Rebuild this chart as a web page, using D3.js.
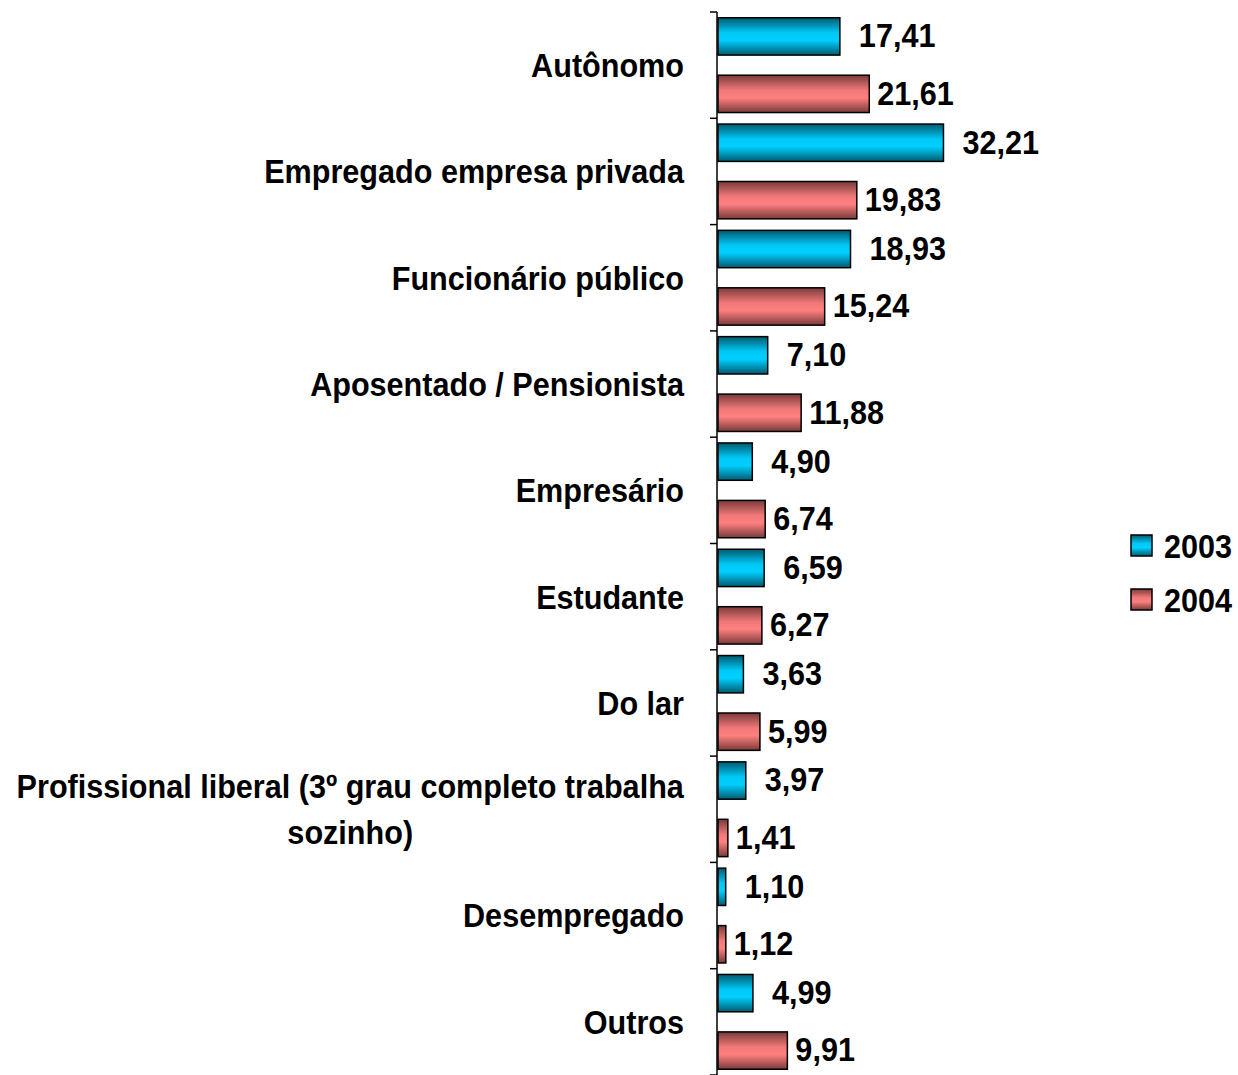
<!DOCTYPE html>
<html lang="pt">
<head>
<meta charset="utf-8">
<script src="https://cdnjs.cloudflare.com/ajax/libs/d3/7.8.5/d3.min.js"></script>
<style>
  body { margin: 0; background: #fff; }
  svg text { font-family: "Liberation Sans", Arial, sans-serif; font-weight: bold; fill: #000; }
</style>
</head>
<body>
<div id="chart"></div>
<script>
// categories, top to bottom
const categories = [
  "Autônomo",
  "Empregado empresa privada",
  "Funcionário público",
  "Aposentado / Pensionista",
  "Empresário",
  "Estudante",
  "Do lar",
  "Profissional liberal (3º grau completo trabalha|sozinho)",
  "Desempregado",
  "Outros"
];
const seriesNames = ["2003", "2004"];
const values2003 = [17.41, 32.21, 18.93, 7.10, 4.90, 6.59, 3.63, 3.97, 1.10, 4.99];
const values2004 = [21.61, 19.83, 15.24, 11.88, 6.74, 6.27, 5.99, 1.41, 1.12, 9.91];

const w = 1238, h = 1075;
const axisX = 717;
const narrow = 0.9;   // squeeze to look like Arial Narrow
const fs = "34px";

const rows = categories.map((c, i) => ({
  cat: c,
  vals: [
    {s: "2003", v: values2003[i]},
    {s: "2004", v: values2004[i]}
  ]
}));

const svg = d3.select("#chart").append("svg")
  .attr("width", w).attr("height", h);

// gradients (dark edges, light middle)
const defs = svg.append("defs");
const grads = {
  "2003": ["#005a70", "#00c8f5", "#00d0ff", "#005a70"],
  "2004": ["#7a3a3a", "#f07878", "#ff8080", "#7a3a3a"]
};
Object.keys(grads).forEach(k => {
  const g = defs.append("linearGradient")
    .attr("id", "g" + k)
    .attr("x1", 0).attr("y1", 0).attr("x2", 0).attr("y2", 1);
  const c = grads[k];
  g.append("stop").attr("offset", "0%").attr("stop-color", c[0]);
  g.append("stop").attr("offset", "40%").attr("stop-color", c[1]);
  g.append("stop").attr("offset", "60%").attr("stop-color", c[2]);
  g.append("stop").attr("offset", "100%").attr("stop-color", c[3]);
});

const y = d3.scaleBand()
  .domain(categories)
  .range([12, 1075]);

const ys = d3.scaleBand()
  .domain(seriesNames)
  .range([0, y.bandwidth()])
  .paddingInner(0.35)
  .paddingOuter(0.1);

const x = d3.scaleLinear()
  .domain([0, 35])
  .range([axisX, axisX + 245]);

// helper: text squeezed horizontally, anchored at (tx, ty)
function narrowText(sel, tx, ty) {
  return sel.attr("transform", `translate(${tx},${ty}) scale(${narrow},1)`);
}

// axis line and ticks
svg.append("line")
  .attr("x1", axisX).attr("x2", axisX)
  .attr("y1", 12).attr("y2", h)
  .attr("stroke", "#000").attr("stroke-width", 1.5);

const tickPos = categories.map(c => y(c)).concat([y(categories[categories.length - 1]) + y.bandwidth()]);
svg.selectAll(".tick")
  .data(tickPos)
  .enter().append("line")
  .attr("class", "tick")
  .attr("x1", axisX - 7).attr("x2", axisX)
  .attr("y1", d => d).attr("y2", d => d)
  .attr("stroke", "#000").attr("stroke-width", 1.5);

// category labels
svg.selectAll(".cat")
  .data(categories)
  .enter().append("g")
  .attr("class", "cat")
  .each(function(d) {
    const lines = d.split("|");
    const cy = y(d) + y.bandwidth() / 2;
    const lh = 46;
    const g = d3.select(this);
    if (lines.length === 1) {
      narrowText(g.append("text"), 684, cy)
        .attr("dy", "0.35em").attr("text-anchor", "end")
        .style("font-size", fs).text(d);
    } else {
      const first = g.append("text").style("font-size", fs).text(lines[0]);
      const wid = first.node().getComputedTextLength() * narrow;
      first.remove();
      const mid = 684 - wid / 2;
      lines.forEach((ln, i) => {
        narrowText(g.append("text"), mid, cy + (i - (lines.length - 1) / 2) * lh)
          .attr("dy", "0.35em").attr("text-anchor", "middle")
          .style("font-size", fs).text(ln);
      });
    }
  });

// bars
const grp = svg.selectAll(".grp")
  .data(rows)
  .enter().append("g")
  .attr("transform", d => `translate(0,${y(d.cat)})`);

grp.selectAll("rect")
  .data(d => d.vals)
  .enter().append("rect")
  .attr("x", x(0) + 1)
  .attr("y", d => ys(d.s))
  .attr("width", d => x(d.v) - x(0))
  .attr("height", ys.bandwidth())
  .attr("fill", d => `url(#g${d.s})`)
  .attr("stroke", "#000")
  .attr("stroke-width", 1.5);

grp.selectAll(".val")
  .data(d => d.vals)
  .enter().append("text")
  .attr("class", "val")
  .each(function(d) {
    narrowText(d3.select(this), x(d.v) + (d.s === "2003" ? 20 : 9), ys(d.s) + ys.bandwidth() / 2 - 1);
  })
  .attr("dy", "0.35em")
  .style("font-size", fs)
  .text(d => d3.format(".2f")(d.v).replace(".", ","));

// legend
const legend = svg.selectAll(".leg")
  .data(seriesNames)
  .enter().append("g")
  .attr("transform", (d, i) => `translate(1131,${535 + i * 54})`);
legend.append("rect")
  .attr("width", 21).attr("height", 21)
  .attr("fill", d => `url(#g${d})`)
  .attr("stroke", "#000").attr("stroke-width", 1.5);
legend.append("text")
  .attr("transform", `translate(33,11) scale(${narrow},1)`)
  .attr("dy", "0.35em")
  .style("font-size", fs)
  .text(d => d);
</script>
</body>
</html>
